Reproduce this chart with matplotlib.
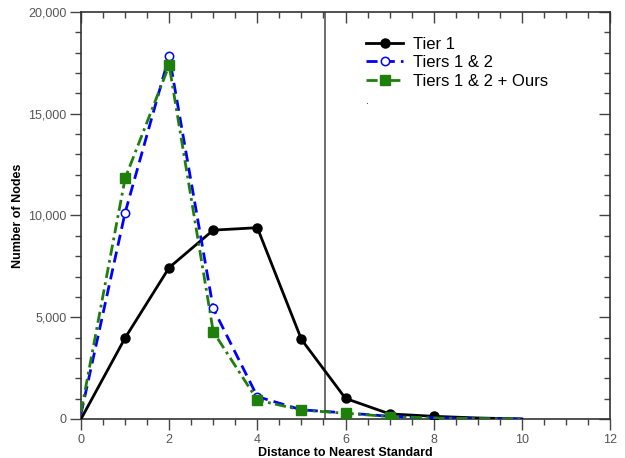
import matplotlib
matplotlib.use("Agg")
import matplotlib.pyplot as plt
from matplotlib.ticker import MultipleLocator, FuncFormatter

plt.rcParams['font.family'] = ['Liberation Sans', 'DejaVu Sans']

# Distance to nearest standard (hops)
distance = [0, 1, 2, 3, 4, 5, 6, 7, 8, 9, 10]

# Number of nodes at each distance
tier1 = [0, 3980, 7440, 9280, 9400, 3910, 1010, 250, 130, 50, 0]
tiers12 = [250, 10130, 17840, 5430, 1100, 450, 300, 130, 60, 20, 0]
tiers12_ours = [330, 11820, 17380, 4290, 930, 440, 280, 120, 50, 20, 0]

series_labels = ["Tier 1", "Tiers 1 & 2", "Tiers 1 & 2 + Ours"]
cutoff_distance = 5.53

fig = plt.figure(figsize=(6.25, 4.58), dpi=100)
ax = fig.add_axes([0.1296, 0.0852, 0.8464, 0.8886])

ax.axvline(cutoff_distance, color="#555555", lw=1.2, zorder=1)

ax.plot(distance, tier1, color="black", lw=2.0, ls="-",
        marker="o", ms=6.5, markevery=slice(1, 9), label=series_labels[0], zorder=3)
ax.plot(distance, tiers12, color="#0000ff", lw=2.0, ls=(0, (4, 2.2)),
        marker="o", ms=6, mfc="white", mec="#0000ff", mew=1.1,
        markevery=slice(1, 8), label=series_labels[1], zorder=4)
ax.plot(distance, tiers12_ours, color="#1e7f0a", lw=2.0, ls=(0, (4, 1.6, 1, 1.6)),
        marker="s", ms=7, mfc="#1e7f0a", mec="#1e7f0a",
        markevery=slice(1, 8), label=series_labels[2], zorder=5)

ax.set_xlim(0, 12)
ax.set_ylim(0, 20000)
ax.xaxis.set_major_locator(MultipleLocator(2))
ax.xaxis.set_minor_locator(MultipleLocator(0.5))
ax.yaxis.set_major_locator(MultipleLocator(5000))
ax.yaxis.set_minor_locator(MultipleLocator(1000))
ax.yaxis.set_major_formatter(FuncFormatter(lambda v, p: f"{int(v):,}"))

for s in ax.spines.values():
    s.set_linewidth(1.2)
    s.set_color("#333333")

ax.tick_params(which="both", direction="out", color="#444444", width=1.0,
               labelsize=9, labelcolor="#555555")
ax.tick_params(which="major", length=8, pad=2.5)
ax.tick_params(which="minor", length=4.5)

# mirrored inward ticks on the top and right edges
top = ax.secondary_xaxis("top")
top.xaxis.set_major_locator(MultipleLocator(2))
top.xaxis.set_minor_locator(MultipleLocator(0.5))
top.tick_params(which="both", direction="in", labeltop=False, color="#444444", width=1.0)
top.tick_params(which="major", length=8)
top.tick_params(which="minor", length=4.5)
top.spines["top"].set_visible(False)

right = ax.secondary_yaxis("right")
right.yaxis.set_major_locator(MultipleLocator(5000))
right.yaxis.set_minor_locator(MultipleLocator(1000))
right.tick_params(which="both", direction="in", labelright=False, color="#444444", width=1.0)
right.tick_params(which="major", length=8)
right.tick_params(which="minor", length=4.5)
right.spines["right"].set_visible(False)

ax.set_xlabel("Distance to Nearest Standard", fontsize=9, fontweight="bold", labelpad=1)
ax.set_ylabel("Number of Nodes", fontsize=9, fontweight="bold", labelpad=3)

ax.legend(loc="upper left", bbox_to_anchor=(0.527, 0.955), frameon=False,
          fontsize=12, handlelength=2.2, handletextpad=0.6, labelspacing=0.2,
          borderaxespad=0)

# stray point left under the legend
ax.text(0.541, 0.77, ".", transform=ax.transAxes, fontsize=8, color="#222222",
        ha="center", va="bottom")

fig.savefig("out.png", dpi=100)
